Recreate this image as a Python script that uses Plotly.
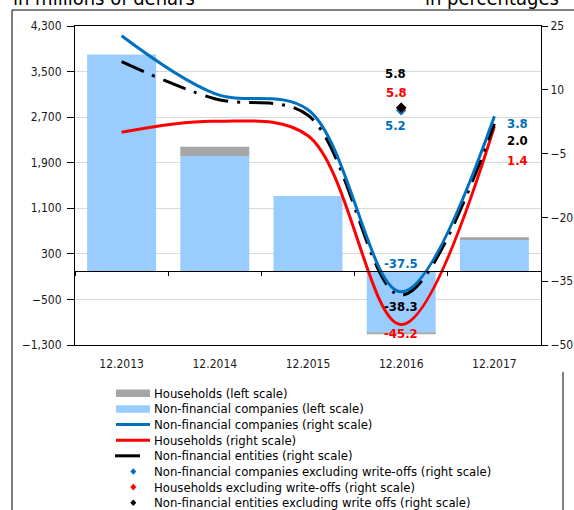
import plotly.graph_objects as go

# ---------------- data ----------------
categories = ["12.2013", "12.2014", "12.2015", "12.2016", "12.2017"]

# bars, left scale (millions of denars)
nfc_bars = [3800, 2020, 1315, -1075, 555]
hh_bars = [0, 160, 0, -35, 35]

# lines, right scale (percentages)
nfc_line = [22.7, 9.1, 5.3, -37.5, 3.8]
hh_line = [0.0, 2.6, -0.8, -45.2, 1.4]
nfe_line = [16.6, 7.9, 4.0, -38.3, 2.0]

# excluding write-offs (12.2016 only)
ex_cat = ["12.2016"]
nfc_ex = [5.2]
hh_ex = [5.8]
nfe_ex = [5.8]

left_ticks = [-1300, -500, 300, 1100, 1900, 2700, 3500, 4300]
right_ticks = [-50, -35, -20, -5, 10, 25]
left_range = [-1300, 4300]
right_range = [-50, 25]

# ---------------- style ----------------
FONT = "DejaVu Sans Condensed, Liberation Sans, sans-serif"
C_NFC_BAR = "#99CCFF"
C_HH_BAR = "#A6A6A6"
C_BLUE = "#0070C0"
C_RED = "#FF0000"
C_BLACK = "#000000"
DASHDOT = "24px,9px,3px,9px"

W, H = 574, 510
ML, MR, MT, MB = 75, 33, 26, 165
PW, PH = W - ML - MR, H - MT - MB


def px(x):
    return (x - ML) / PW


def py(y):
    return (H - MB - y) / PH


fig = go.Figure()

fig.add_trace(go.Bar(x=categories, y=nfc_bars, marker_color=C_NFC_BAR,
                     marker_line_width=0, width=0.74, name="Non-financial companies (left scale)",
                     xaxis="x", yaxis="y"))
fig.add_trace(go.Bar(x=categories, y=hh_bars, marker_color=C_HH_BAR,
                     marker_line_width=0, width=0.74, name="Households (left scale)",
                     xaxis="x", yaxis="y"))

line_kw = dict(mode="lines", line_shape="spline", xaxis="x2", yaxis="y2")
fig.add_trace(go.Scatter(x=categories, y=hh_line, line=dict(color=C_RED, width=3, smoothing=1),
                         name="Households (right scale)", **line_kw))
fig.add_trace(go.Scatter(x=categories, y=nfe_line,
                         line=dict(color=C_BLACK, width=3, dash=DASHDOT, smoothing=1),
                         name="Non-financial entities (right scale)", **line_kw))
fig.add_trace(go.Scatter(x=categories, y=nfc_line, line=dict(color=C_BLUE, width=3, smoothing=1),
                         name="Non-financial companies (right scale)", **line_kw))

mk_kw = dict(mode="markers", xaxis="x2", yaxis="y2")
fig.add_trace(go.Scatter(x=ex_cat, y=nfc_ex, marker=dict(symbol="diamond", size=8, color=C_BLUE),
                         name="Non-financial companies excluding write-offs (right scale)", **mk_kw))
fig.add_trace(go.Scatter(x=ex_cat, y=hh_ex, marker=dict(symbol="diamond", size=8, color=C_RED),
                         name="Households excluding write-offs (right scale)", **mk_kw))
fig.add_trace(go.Scatter(x=ex_cat, y=nfe_ex, marker=dict(symbol="diamond", size=8, color=C_BLACK),
                         name="Non-financial entities excluding write offs (right scale)", **mk_kw))

# ---------------- data labels ----------------
annotations = []


def lab(cat, val, color, xs=0, ys=0):
    annotations.append(dict(x=categories.index(cat), y=val, xref="x", yref="y2",
                            text=f"<b>{val:.1f}</b>",
                            showarrow=False, xshift=xs, yshift=ys,
                            font=dict(family=FONT, size=13, color=color)))


c16, c17 = categories[3], categories[4]
lab(ex_cat[0], nfe_ex[0], C_BLACK, -6, 34)
lab(ex_cat[0], hh_ex[0], C_RED, -5, 15)
lab(ex_cat[0], nfc_ex[0], C_BLUE, -6, -15)
lab(c16, nfc_line[3], C_BLUE, 0, 28)
lab(c16, nfe_line[3], C_BLACK, 0, -11)
lab(c16, hh_line[3], C_RED, 0, -9)
lab(c17, nfc_line[4], C_BLUE, 23, -7)
lab(c17, nfe_line[4], C_BLACK, 23, -17)
lab(c17, hh_line[4], C_RED, 23, -34)

# ---------------- titles (cropped at the top edge, as in the source) ----------------
annotations.append(dict(xref="paper", yref="paper", x=px(11), y=py(-2), xanchor="left",
                        yanchor="middle", text="in millions of denars", showarrow=False,
                        font=dict(family=FONT, size=20, color="#000")))
annotations.append(dict(xref="paper", yref="paper", x=px(561), y=py(-2), xanchor="right",
                        yanchor="middle", text="in percentages", showarrow=False,
                        font=dict(family=FONT, size=20, color="#000")))

# ---------------- manual legend ----------------
shapes = []
legend_rows = [
    ("rect", C_HH_BAR, "Households (left scale)"),
    ("rect", C_NFC_BAR, "Non-financial companies (left scale)"),
    ("line", C_BLUE, "Non-financial companies (right scale)"),
    ("line", C_RED, "Households (right scale)"),
    ("dash", C_BLACK, "Non-financial entities (right scale)"),
    ("diamond", C_BLUE, "Non-financial companies excluding write-offs (right scale)"),
    ("diamond", C_RED, "Households excluding write-offs (right scale)"),
    ("diamond", C_BLACK, "Non-financial entities excluding write offs (right scale)"),
]
row0, row_gap = 393.3, 15.63
for k, (kind, color, text) in enumerate(legend_rows):
    yc = row0 + k * row_gap
    if kind == "rect":
        shapes.append(dict(type="rect", xref="paper", yref="paper", x0=px(116), x1=px(150),
                           y0=py(yc - 3.7), y1=py(yc + 3.7), fillcolor=color, line_width=0))
    elif kind == "line":
        shapes.append(dict(type="line", xref="paper", yref="paper", x0=px(116), x1=px(150),
                           y0=py(yc), y1=py(yc), line=dict(color=color, width=3)))
    elif kind == "dash":
        shapes.append(dict(type="line", xref="paper", yref="paper", x0=px(115), x1=px(140),
                           y0=py(yc), y1=py(yc), line=dict(color=color, width=3)))
    else:
        cx = 133.3
        pts = [(cx, yc - 3.3), (cx + 3, yc), (cx, yc + 3.3), (cx - 3, yc)]
        path = "M " + " L ".join(f"{px(a):.5f},{py(b):.5f}" for a, b in pts) + " Z"
        shapes.append(dict(type="path", xref="paper", yref="paper", path=path,
                           fillcolor=color, line_width=0))
    annotations.append(dict(xref="paper", yref="paper", x=px(152), y=py(yc), xanchor="left",
                            yanchor="middle", text=text, showarrow=False,
                            font=dict(family=FONT, size=13, color="#000")))

# outer frame
shapes.append(dict(type="line", xref="paper", yref="paper", x0=px(12), x1=px(W + 5),
                   y0=py(10), y1=py(10), line=dict(color="#000", width=1)))
shapes.append(dict(type="line", xref="paper", yref="paper", x0=px(12), x1=px(12),
                   y0=py(10), y1=py(H + 5), line=dict(color="#000", width=1)))
shapes.append(dict(type="line", xref="paper", yref="paper", x0=px(563), x1=px(563),
                   y0=py(372), y1=py(H + 5), line=dict(color="#000", width=1)))

zero_pos = (0 - left_range[0]) / (left_range[1] - left_range[0])
tickfont = dict(family=FONT, size=12, color="#1a1a1a")

fig.update_layout(
    template="none",
    width=W, height=H, autosize=False,
    margin=dict(l=ML, r=MR, t=MT, b=MB, autoexpand=False),
    paper_bgcolor="white", plot_bgcolor="white",
    barmode="relative", bargap=0.26,
    showlegend=False,
    font=dict(family=FONT, size=12, color="#000"),
    xaxis=dict(type="category", categoryarray=categories, range=[-0.5, 4.5],
               showline=True, linecolor="#000", linewidth=1, mirror=True, automargin=False,
               ticks="", showgrid=False, tickfont=tickfont, ticklabelstandoff=8),
    xaxis2=dict(type="category", categoryarray=categories, range=[-0.5, 4.5],
                overlaying="x", anchor="free", position=zero_pos, side="bottom",
                showline=True, linecolor="#000", linewidth=1, automargin=False,
                ticks="outside", tickson="boundaries", ticklen=4, tickcolor="#000",
                showticklabels=False, showgrid=False),
    yaxis=dict(range=left_range, tickvals=left_ticks, tickformat=",d",
               showgrid=True, gridcolor="#D9D9D9", gridwidth=1, zeroline=False,
               showline=True, linecolor="#000", linewidth=1, automargin=False,
               ticks="outside", ticklen=7, tickcolor="#000", tickfont=tickfont,
               ticklabelstandoff=3),
    yaxis2=dict(range=right_range, tickvals=right_ticks, overlaying="y", side="right",
                anchor="x", showgrid=False, zeroline=False, automargin=False,
                showline=True, linecolor="#000", linewidth=1,
                ticks="outside", ticklen=6, tickcolor="#000", tickfont=tickfont,
                ticklabelstandoff=0),
    annotations=annotations,
    shapes=shapes,
)

fig.write_html(
    "out.html",
    config={"displayModeBar": False, "responsive": False},
    post_script=("document.body.style.margin='0';document.body.style.overflow='hidden';"
                 "document.documentElement.style.overflow='hidden';"),
)
